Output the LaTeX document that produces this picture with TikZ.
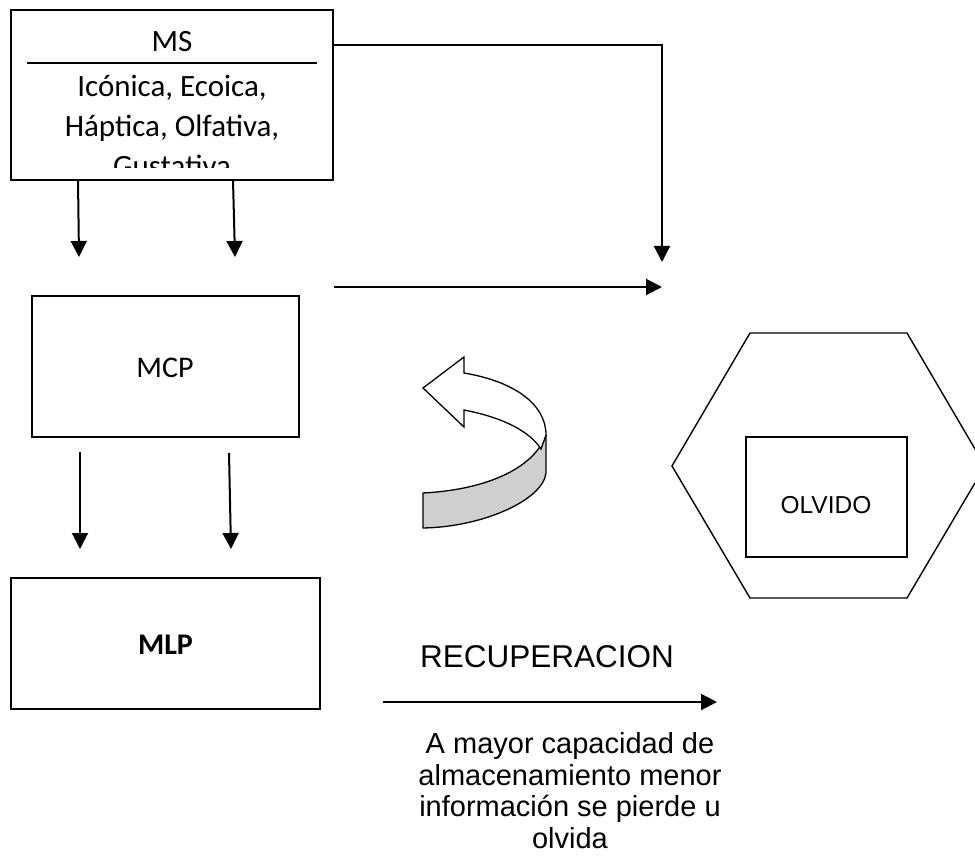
\documentclass[tikz,border=0pt]{standalone}
\usepackage{fontspec}
\setmainfont{Carlito}
\newfontfamily\arialf{Liberation Sans}
\usetikzlibrary{arrows.meta}
\begin{document}
\begin{tikzpicture}[x=1pt,y=-1pt,
  box/.style={draw, line width=1.6pt, inner sep=0pt},
  conn/.style={line width=2pt, -{Triangle[length=16pt,width=16pt]}},
  cal/.style={font=\fontsize{31}{36}\selectfont, anchor=base, inner sep=0pt},
  calm/.style={font=\fontsize{30}{34}\selectfont, anchor=base, inner sep=0pt},
  ar/.style={anchor=base, inner sep=0pt},
]
\useasboundingbox (0,0) rectangle (975,861);
\clip (0,0) rectangle (975,861);

% boxes
\node[box, minimum width=322pt, minimum height=170pt] (ms) at (172,95) {};
\node[box, minimum width=267pt, minimum height=141pt] (mcp) at (165.5,366.5) {};
\node[box, minimum width=309pt, minimum height=131pt] (mlp) at (165.5,643.5) {};

% MS texts
\node[cal] (mst) at (172,52) {MS};
\draw[line width=1.3pt] (27,63) coordinate (d1) -- (317,63) coordinate (d2);
\node[cal] (l1) at (172,97) {Icónica, Ecoica,};
\node[cal] (l2) at (172,137) {Háptica, Olfativa,};
\begin{scope}
  \clip (11,10) rectangle (333,168);
  \node[cal] (l3) at (172,177) {Gustativa};
\end{scope}

\node[calm] (mcpt) at (165,377) {MCP};
\node[calm, font=\fontsize{30}{34}\selectfont\bfseries] (mlpt) at (165.5,654) {MLP};

% arrows MS -> MCP
\coordinate (a1s) at (78,180);  \coordinate (a1e) at (79,257);
\coordinate (a2s) at (233,180); \coordinate (a2e) at (235,257);
\draw[conn] (a1s) -- (a1e);
\draw[conn] (a2s) -- (a2e);

% arrows MCP -> MLP
\coordinate (b1s) at (80,452);  \coordinate (b1e) at (80,549);
\coordinate (b2s) at (229,453); \coordinate (b2e) at (231,549);
\draw[conn] (b1s) -- (b1e);
\draw[conn] (b2s) -- (b2e);

% right connector from MS
\coordinate (msr) at (333,45);
\coordinate (cr) at (662,45);
\coordinate (cre) at (662,262);
\draw[conn] (msr) -- (cr) -- (cre);

% horizontal arrow
\coordinate (hs) at (334,287);
\coordinate (he) at (662,287);
\draw[conn] (hs) -- (he);

% curved 3D arrow
\filldraw[fill=gray!38, line width=1.3pt, line join=round]
  (423,493) .. controls (483,490) and (533,470) .. (546,435)
  -- (546,473) .. controls (543,500) and (483,527) .. (423,528) -- cycle;
\filldraw[fill=white, line width=1.3pt, line join=miter]
  (423,388) -- (464,357) -- (464,373)
  .. controls (512,381) and (546,403) .. (546,435)
  -- (541,449) .. controls (530,432) and (505,418) .. (464,410)
  -- (464,427) -- cycle;

% hexagon
\draw[line width=1.4pt, line join=miter]
  (750,333) -- (907,333) -- (985,466) -- (907,598) -- (750,598) -- (672,466) -- cycle;
\node[box, minimum width=161pt, minimum height=120pt] (olv) at (826.5,497) {};
\node[ar, font=\arialf\fontsize{24.5}{30}\selectfont] (olvt) at (826,513) {OLVIDO};

% recuperacion
\node[ar, font=\arialf\fontsize{31.5}{38}\selectfont] (rec) at (547,667) {RECUPERACION};
\coordinate (rs) at (383,702);
\coordinate (re) at (717,702);
\draw[conn] (rs) -- (re);

\node[ar, font=\arialf\fontsize{29}{32}\selectfont] (p1) at (570,753) {A mayor capacidad de};
\node[ar, font=\arialf\fontsize{29}{32}\selectfont] (p2) at (570,785) {almacenamiento menor};
\node[ar, font=\arialf\fontsize{29}{32}\selectfont] (p3) at (570,816) {información se pierde u};
\node[ar, font=\arialf\fontsize{29}{32}\selectfont] (p4) at (570,848) {olvida};
\end{tikzpicture}
\end{document}
